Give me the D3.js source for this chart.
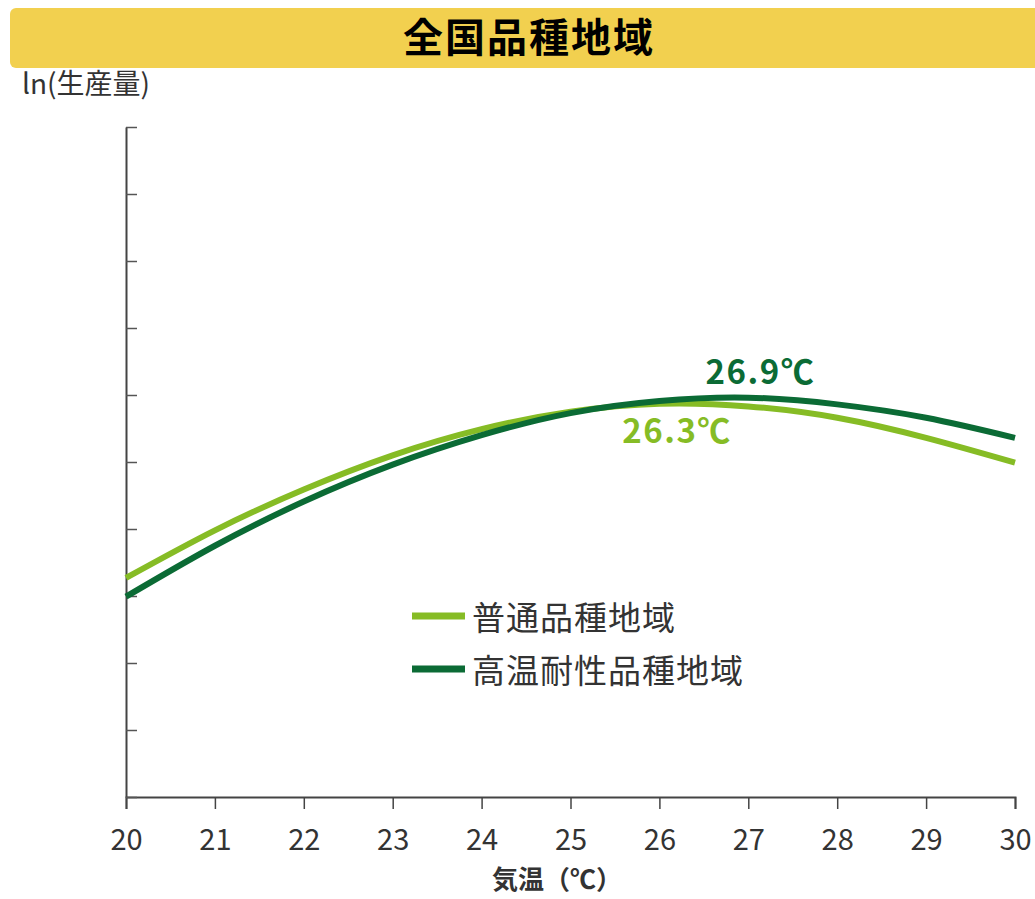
<!DOCTYPE html>
<html>
<head>
<meta charset="utf-8">
<script src="https://cdn.jsdelivr.net/npm/d3@7"></script>
<style>
  body { margin: 0; background: #fff; }
  text { font-family: "Noto Sans CJK JP", "Noto Sans", sans-serif; }
</style>
</head>
<body>
<div id="chart"></div>
<script>
// temperature (℃) and ln(production), y in tick units
var temps = [20, 21, 22, 23, 24, 25, 26, 27, 28, 29, 30];
var normalVals = [3.27, 3.98, 4.59, 5.10, 5.49, 5.75, 5.87, 5.83, 5.66, 5.36, 4.99];
var heatVals   = [2.99, 3.75, 4.41, 4.96, 5.40, 5.73, 5.91, 5.96, 5.86, 5.66, 5.36];
var seriesNames = ["普通品種地域", "高温耐性品種地域"];
var peakLabels = ["26.3℃", "26.9℃"];
var peakTemps = [26.3, 26.9];
var peakVals = [5.87, 5.96];
var xTicks = [20, 21, 22, 23, 24, 25, 26, 27, 28, 29, 30];
var yTicks = [0, 1, 2, 3, 4, 5, 6, 7, 8, 9, 10];

var colors = ["#86bc25", "#0b6b35"];

var W = 1035, H = 899;
var svg = d3.select("#chart").append("svg")
    .attr("width", W)
    .attr("height", H);

// title bar
svg.append("rect")
    .attr("x", 10).attr("y", 8)
    .attr("width", 1040).attr("height", 60)
    .attr("rx", 6)
    .attr("fill", "#f2d04f");
svg.append("text")
    .attr("x", 529).attr("y", 52)
    .attr("text-anchor", "middle")
    .attr("font-size", 40)
    .attr("letter-spacing", 2)
    .attr("font-weight", "bold")
    .attr("fill", "#000")
    .text("全国品種地域");

// y label
svg.append("text")
    .attr("x", 22).attr("y", 94)
    .attr("font-size", 28)
    .attr("fill", "#333")
    .text("ln(生産量)");

var x = d3.scaleLinear().domain([20, 30]).range([126, 1015]);
var y = d3.scaleLinear().domain([0, 10]).range([797, 127]);

// x axis
var gx = svg.append("g")
    .attr("transform", "translate(0,797)")
    .call(d3.axisBottom(x).tickValues(xTicks).tickSize(12).tickPadding(20).tickFormat(d3.format("d")));
gx.select(".domain").attr("stroke", "#444").attr("stroke-width", 2);
gx.selectAll(".tick line").attr("stroke", "#444").attr("stroke-width", 1.5);
gx.selectAll(".tick text")
    .attr("font-size", 29)
    .attr("fill", "#333")
    .attr("font-family", "'Noto Sans CJK JP', sans-serif");

// y axis, ticks pointing inward, no labels
var gy = svg.append("g")
    .attr("transform", "translate(126,0)")
    .call(d3.axisRight(y).tickValues(yTicks).tickSize(11).tickSizeOuter(0).tickFormat(""));
gy.select(".domain").attr("stroke", "#444").attr("stroke-width", 2);
gy.selectAll(".tick line").attr("stroke", "#555").attr("stroke-width", 1.5);

svg.append("text")
    .attr("x", 557).attr("y", 889)
    .attr("text-anchor", "middle")
    .attr("font-size", 26)
    .attr("font-weight", "bold")
    .attr("fill", "#333")
    .text("気温（℃）");

// curves
var line = d3.line()
    .x(function(d) { return x(d[0]); })
    .y(function(d) { return y(d[1]); })
    .curve(d3.curveNatural);

[normalVals, heatVals].forEach(function(vals, i) {
  svg.append("path")
    .datum(d3.zip(temps, vals))
    .attr("fill", "none")
    .attr("stroke", colors[i])
    .attr("stroke-width", 6)
    .attr("d", line);
});

// peak annotations
var peakOffsets = [[-9, 39], [21, -14]];
peakLabels.forEach(function(lbl, i) {
  svg.append("text")
    .attr("x", x(peakTemps[i]) + peakOffsets[i][0])
    .attr("y", y(peakVals[i]) + peakOffsets[i][1])
    .attr("text-anchor", "middle")
    .attr("font-size", 33)
    .attr("letter-spacing", 1.5)
    .attr("font-weight", "bold")
    .attr("fill", colors[i])
    .text(lbl);
});

// legend
var legend = svg.append("g").attr("transform", "translate(412,616)");
seriesNames.forEach(function(name, i) {
  var g = legend.append("g").attr("transform", "translate(0," + (i * 53) + ")");
  g.append("line")
    .attr("x1", 0).attr("x2", 53)
    .attr("stroke", colors[i])
    .attr("stroke-width", 7);
  g.append("text")
    .attr("x", 60).attr("y", 14)
    .attr("font-size", 33)
    .attr("letter-spacing", 1)
    .attr("fill", "#333")
    .text(name);
});
</script>
</body>
</html>
